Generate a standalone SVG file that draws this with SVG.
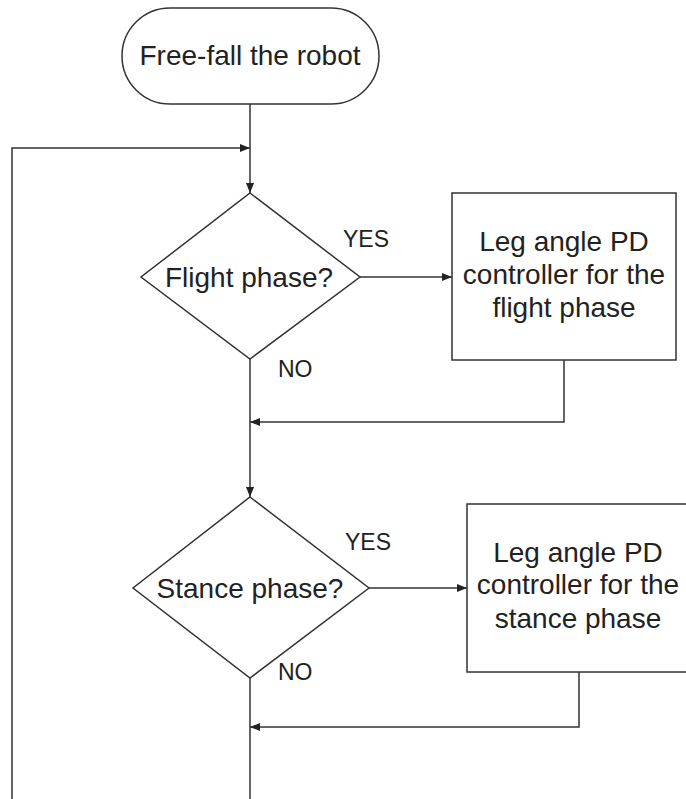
<svg xmlns="http://www.w3.org/2000/svg" width="686" height="799" viewBox="0 0 686 799">
  <style>
    .shape { fill: #ffffff; stroke: #333333; stroke-width: 1.5; }
    .wire { fill: none; stroke: #333333; stroke-width: 1.5; }
    .txt { font-family: "Liberation Sans", Arial, sans-serif; font-size: 28px; fill: #222222; text-anchor: middle; }
    .lbl { font-family: "Liberation Sans", Arial, sans-serif; font-size: 23px; fill: #222222; }
  </style>
  <defs>
    <marker id="arrow" viewBox="0 0 10 8" refX="10" refY="4" markerWidth="10" markerHeight="8" markerUnits="userSpaceOnUse" orient="auto">
      <path d="M0,0 L10,4 L0,8 Z" fill="#222222"/>
    </marker>
  </defs>
  <rect width="686" height="799" fill="#ffffff"/>

  <!-- connectors -->
  <g id="connectors">
    <line class="wire" x1="250" y1="104" x2="250" y2="193" marker-end="url(#arrow)"/>
    <polyline class="wire" points="12,799 12,148 250,148" marker-end="url(#arrow)"/>
    <line class="wire" x1="360" y1="277" x2="452" y2="277" marker-end="url(#arrow)"/>
    <polyline class="wire" points="564,360 564,422 250,422" marker-end="url(#arrow)"/>
    <line class="wire" x1="250" y1="359" x2="250" y2="497" marker-end="url(#arrow)"/>
    <line class="wire" x1="369" y1="588" x2="467" y2="588" marker-end="url(#arrow)"/>
    <polyline class="wire" points="579,672 579,727 250,727" marker-end="url(#arrow)"/>
    <line class="wire" x1="250" y1="678" x2="250" y2="799"/>
    <text class="lbl" x="343" y="247">YES</text>
    <text class="lbl" x="278" y="377">NO</text>
    <text class="lbl" x="345" y="550">YES</text>
    <text class="lbl" x="278" y="680">NO</text>
  </g>

  <g id="start">
    <rect class="shape" x="122" y="8" width="257" height="96" rx="48" ry="48"/>
    <text class="txt" x="250" y="65">Free-fall the robot</text>
  </g>

  <g id="flight-check">
    <polygon class="shape" points="250,193 360,277 250,359 141,277"/>
    <text class="txt" x="249" y="287">Flight phase?</text>
  </g>

  <g id="flight-controller">
    <rect class="shape" x="452" y="193" width="224" height="167"/>
    <text class="txt" x="564" y="251">Leg angle PD</text>
    <text class="txt" x="564" y="284">controller for the</text>
    <text class="txt" x="564" y="317">flight phase</text>
  </g>

  <g id="stance-check">
    <polygon class="shape" points="250,497 369,588 250,678 133,588"/>
    <text class="txt" x="250" y="598">Stance phase?</text>
  </g>

  <g id="stance-controller">
    <rect class="shape" x="467" y="504" width="230" height="168"/>
    <text class="txt" x="578" y="562">Leg angle PD</text>
    <text class="txt" x="578" y="594">controller for the</text>
    <text class="txt" x="578" y="628">stance phase</text>
  </g>
</svg>
